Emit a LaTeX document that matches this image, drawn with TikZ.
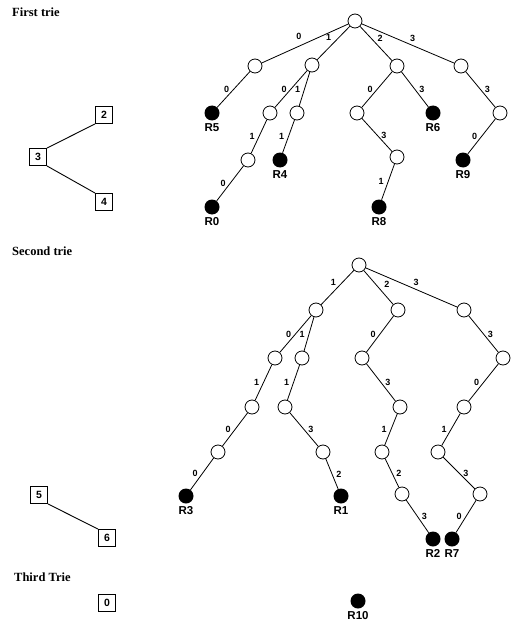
\documentclass[tikz,border=0pt]{standalone}
\usepackage{fontspec}
\setmainfont{Liberation Sans}
\newfontfamily\headfont{Liberation Serif}
\usepackage{tikz}
\usetikzlibrary{positioning}

\tikzset{
    trienode/.style={circle, draw, line width=0.8pt, fill=white, minimum size=14pt, inner sep=0pt},
    leafnode/.style={circle, fill=black, minimum size=15pt, inner sep=0pt,
        label={[leaflabel]below:#1}},
    leaflabel/.style={font=\bfseries\fontsize{11.5}{12}\selectfont, inner sep=0.5pt, label distance=2pt},
    idbox/.style={draw, line width=0.9pt, minimum size=17pt, inner sep=0pt,
        font=\bfseries\fontsize{10.5}{11}\selectfont},
    trieedge/.style={line width=0.8pt},
    digit/.style={font=\bfseries\fontsize{9}{9}\selectfont, inner sep=0.5pt},
    heading/.style={anchor=west, inner sep=0pt, font=\headfont\bfseries\fontsize{12.5}{13}\selectfont},
    lft/.style={left=3.5pt},
    rgt/.style={right=3.5pt},
}

\begin{document}
\begin{tikzpicture}[x=1pt, y=-1pt]
    \useasboundingbox (0,0) rectangle (512,623);

    \node[heading] (h1) at (12,12) {First trie};
    \node[heading] (h2) at (12,251) {Second trie};
    \node[heading] (h3) at (14,577) {Third Trie};

    % id boxes
    \node[idbox] (b2) at (104,115) {2};
    \node[idbox] (b3) at (38,157) {3};
    \node[idbox] (b4) at (104,202) {4};
    \node[idbox] (b5) at (39,495) {5};
    \node[idbox] (b6) at (107,538) {6};
    \node[idbox] (b0) at (107,603) {0};
    \draw[line width=0.9pt] (b3.north east) -- (b2.south west);
    \draw[line width=0.9pt] (b3.south east) -- (b4.north west);
    \draw[line width=0.9pt] (b5.south east) -- (b6.north west);

    % first trie
    \node[trienode] (t1r) at (355,21) {};
    \node[trienode] (t1a) at (255,66) {};
    \node[trienode] (t1b) at (312,65) {};
    \node[trienode] (t1c) at (397,66) {};
    \node[trienode] (t1d) at (461,66) {};
    \node[trienode] (t1b0) at (270,113) {};
    \node[trienode] (t1b1) at (297,113) {};
    \node[trienode] (t1c0) at (357,113) {};
    \node[trienode] (t1d3) at (500,113) {};
    \node[trienode] (t1b01) at (248,160) {};
    \node[trienode] (t1c03) at (397,157) {};
    \node[leafnode=R5] (R5) at (212,113) {};
    \node[leafnode=R6] (R6) at (433,113) {};
    \node[leafnode=R4] (R4) at (280,160) {};
    \node[leafnode=R9] (R9) at (463,160) {};
    \node[leafnode=R0] (R0) at (212,207) {};
    \node[leafnode=R8] (R8) at (379,207) {};

    \draw[trieedge] (t1r) -- node[digit, pos=0.57, above=6pt] {0} (t1a);
    \draw[trieedge] (t1r) -- node[digit, above left=2pt] {1} (t1b);
    \draw[trieedge] (t1r) -- node[digit, above right=1pt] {2} (t1c);
    \draw[trieedge] (t1r) -- node[digit, pos=0.55, above=3pt] {3} (t1d);
    \foreach \u/\v/\d/\s in {t1a/R5/0/lft, t1b/t1b0/0/lft, t1b/t1b1/1/lft,
            t1b0/t1b01/1/lft, t1b01/R0/0/lft, t1b1/R4/1/lft,
            t1c/t1c0/0/lft, t1c/R6/3/rgt, t1c0/t1c03/3/rgt, t1c03/R8/1/lft,
            t1d/t1d3/3/rgt, t1d3/R9/0/lft} {
        \draw[trieedge] (\u) -- node[digit, \s] {\d} (\v);
    }

    % second trie
    \node[trienode] (t2r) at (359,265) {};
    \node[trienode] (t2a) at (316,310) {};
    \node[trienode] (t2b) at (398,310) {};
    \node[trienode] (t2c) at (464,310) {};
    \node[trienode] (t2a0) at (275,358) {};
    \node[trienode] (t2a1) at (302,358) {};
    \node[trienode] (t2b0) at (362,358) {};
    \node[trienode] (t2c3) at (503,358) {};
    \node[trienode] (t2a01) at (252,407) {};
    \node[trienode] (t2a11) at (285,407) {};
    \node[trienode] (t2b03) at (400,407) {};
    \node[trienode] (t2c30) at (464,407) {};
    \node[trienode] (t2a010) at (218,452) {};
    \node[trienode] (t2a113) at (323,452) {};
    \node[trienode] (t2b031) at (382,452) {};
    \node[trienode] (t2c301) at (438,452) {};
    \node[trienode] (t2b0312) at (402,494) {};
    \node[trienode] (t2c3013) at (480,494) {};
    \node[leafnode=R3] (R3) at (186,496) {};
    \node[leafnode=R1] (R1) at (341,496) {};
    \node[leafnode=R2] (R2) at (433,539) {};
    \node[leafnode=R7] (R7) at (452,539) {};

    \draw[trieedge] (t2r) -- node[digit, above left=1pt] {1} (t2a);
    \draw[trieedge] (t2r) -- node[digit, pos=0.4, right=8pt] {2} (t2b);
    \draw[trieedge] (t2r) -- node[digit, pos=0.55, above=3pt] {3} (t2c);
    \foreach \u/\v/\d/\s in {t2a/t2a0/0/lft, t2a/t2a1/1/lft, t2b/t2b0/0/lft,
            t2c/t2c3/3/rgt, t2a0/t2a01/1/lft, t2a1/t2a11/1/lft,
            t2b0/t2b03/3/rgt, t2c3/t2c30/0/lft, t2a01/t2a010/0/lft,
            t2a11/t2a113/3/rgt, t2b03/t2b031/1/lft, t2c30/t2c301/1/lft,
            t2a010/R3/0/lft, t2a113/R1/2/rgt, t2b031/t2b0312/2/rgt,
            t2c301/t2c3013/3/rgt, t2b0312/R2/3/rgt, t2c3013/R7/0/lft} {
        \draw[trieedge] (\u) -- node[digit, \s] {\d} (\v);
    }

    % third trie
    \node[leafnode=R10] (R10) at (358,601) {};
\end{tikzpicture}
\end{document}
